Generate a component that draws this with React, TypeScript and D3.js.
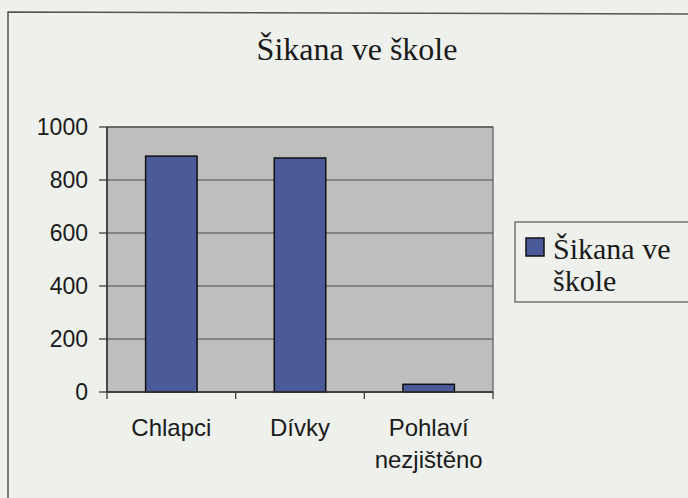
import React from "react";
import * as d3 from "d3";

const categories: string[][] = [["Chlapci"], ["Dívky"], ["Pohlaví", "nezjištěno"]];
const categoryKeys = ["Chlapci", "Dívky", "Pohlaví nezjištěno"];
const values = [890, 883, 29];
const yTicks = [0, 200, 400, 600, 800, 1000];
const title = "Šikana ve škole";
const legendLines = ["Šikana ve", "škole"];

const W = 688;
const H = 498;
const plot = { left: 107, right: 493, top: 127, bottom: 392 };

export default function App() {
  const x = d3
    .scaleBand<string>()
    .domain(categoryKeys)
    .range([plot.left, plot.right])
    .paddingInner(0.6)
    .paddingOuter(0.3);
  const xOuter = d3.scaleBand<string>().domain(categoryKeys).range([plot.left, plot.right]);
  const y = d3.scaleLinear().domain([0, 1000]).range([plot.bottom, plot.top]);

  const sans = "'Liberation Sans', Arial, sans-serif";
  const serif = "'Liberation Serif', 'Times New Roman', serif";
  const boundaries = [plot.left, ...categoryKeys.map((k) => (xOuter(k) as number) + xOuter.bandwidth())];

  return (
    <svg
      width={W}
      height={H}
      style={{ position: "fixed", left: 0, top: 0, background: "#eef0ec" }}
    >
      <rect x={0} y={0} width={W} height={H} fill="#eef0ec" />
      {/* chart frame */}
      <path d={`M8,${H + 5} L8,12 L${W + 5},14`} fill="none" stroke="#555" strokeWidth={1.5} />
      {/* title */}
      <text x={357} y={60} textAnchor="middle" fontFamily={serif} fontSize={32} fill="#1a1a1a">
        {title}
      </text>
      {/* plot area */}
      <rect
        x={plot.left}
        y={plot.top}
        width={plot.right - plot.left}
        height={plot.bottom - plot.top}
        fill="#bebfbd"
        stroke="#5a5a5a"
        strokeWidth={1.2}
      />
      {/* gridlines */}
      {yTicks.map((t) => (
        <line key={"g" + t} x1={plot.left} x2={plot.right} y1={y(t)} y2={y(t)} stroke="#4a4a4a" strokeWidth={1.2} />
      ))}
      {/* bars */}
      {values.map((v, i) => (
        <rect
          key={"b" + i}
          x={x(categoryKeys[i])}
          y={y(v)}
          width={x.bandwidth()}
          height={y(0) - y(v)}
          fill="#4b5a98"
          stroke="#111"
          strokeWidth={1.5}
        />
      ))}
      {/* axes */}
      <line x1={plot.left} x2={plot.left} y1={plot.top} y2={plot.bottom} stroke="#333" strokeWidth={1.5} />
      <line x1={plot.left} x2={plot.right} y1={plot.bottom} y2={plot.bottom} stroke="#333" strokeWidth={1.5} />
      {yTicks.map((t) => (
        <g key={"yt" + t}>
          <line x1={plot.left - 8} x2={plot.left} y1={y(t)} y2={y(t)} stroke="#333" strokeWidth={1.2} />
          <text
            x={88}
            y={y(t)}
            dy="0.35em"
            textAnchor="end"
            fontFamily={sans}
            fontSize={23}
            fill="#1a1a1a"
          >
            {t}
          </text>
        </g>
      ))}
      {boundaries.map((bx, i) => (
        <line key={"xt" + i} x1={bx} x2={bx} y1={plot.bottom} y2={plot.bottom + 7} stroke="#333" strokeWidth={1.2} />
      ))}
      {categories.map((lines, i) => {
        const cx = (xOuter(categoryKeys[i]) as number) + xOuter.bandwidth() / 2;
        return (
          <text key={"xl" + i} textAnchor="middle" fontFamily={sans} fontSize={24} fill="#1a1a1a">
            {lines.map((l, j) => (
              <tspan key={j} x={cx} y={436 + j * 32}>
                {l}
              </tspan>
            ))}
          </text>
        );
      })}
      {/* legend */}
      <rect x={515} y={222} width={W - 515 + 5} height={80} fill="none" stroke="#555" strokeWidth={1.2} />
      <rect x={526} y={238} width={18} height={18} fill="#4b5a98" stroke="#111" strokeWidth={1.5} />
      <text fontFamily={serif} fontSize={30} fill="#1a1a1a">
        {legendLines.map((l, j) => (
          <tspan key={j} x={553} y={259 + j * 32}>
            {l}
          </tspan>
        ))}
      </text>
    </svg>
  );
}
